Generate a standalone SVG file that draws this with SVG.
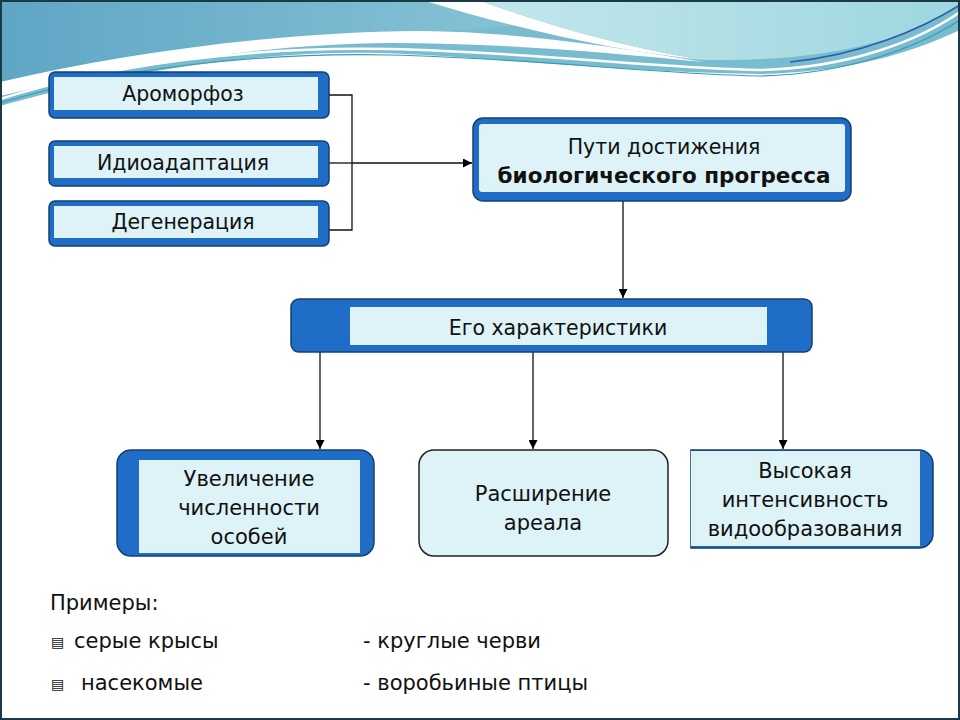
<svg xmlns="http://www.w3.org/2000/svg" width="960" height="720" viewBox="0 0 960 720">
<defs>
<linearGradient id="wave" x1="0" y1="0" x2="1" y2="0">
<stop offset="0" stop-color="#5FA6C5"/>
<stop offset="0.6" stop-color="#7FBDD2"/>
<stop offset="1" stop-color="#8FCAD8"/>
</linearGradient>
<linearGradient id="light" x1="0" y1="0" x2="1" y2="0">
<stop offset="0" stop-color="#C2E7EC"/>
<stop offset="1" stop-color="#9ED6DF"/>
</linearGradient>
<marker id="arr" viewBox="0 0 10 10" refX="10" refY="5" markerWidth="9" markerHeight="9" markerUnits="userSpaceOnUse" orient="auto">
<path d="M0,0 L10,5 L0,10 Z" fill="#000"/>
</marker>
<style>
.blue{fill:#1F6DC6;stroke:#15406E;stroke-width:1.5}
.inner{fill:#DDF3F8}
.t{font-family:"DejaVu Sans",Verdana,sans-serif;font-size:20.5px;fill:#111;text-anchor:middle}
.b{font-weight:bold;font-size:21.5px}
.p{font-family:"DejaVu Sans",Verdana,sans-serif;font-size:21px;fill:#111}
.c{fill:none;stroke:#111;stroke-width:1.3}
</style>
</defs>
<rect width="960" height="720" fill="#FFFFFF"/>
<!-- decorative top wave -->
<path d="M0,0 H960 V30 C900,58 840,72 760,74 C620,72 480,56 380,53 C250,50 110,75 0,106 Z" fill="#79BCD0"/>
<path d="M0,0 H700 C600,15 520,30 420,31 C280,32 130,52 0,82 Z" fill="url(#wave)"/>
<path d="M0,82 C130,52 280,32 420,31 C520,32 610,46 704,62 C600,52 500,43 390,43 C250,44 110,70 0,96 Z" fill="#FFFFFF"/>
<path d="M422,0 H478 C560,30 640,50 704,60 C620,52 520,30 422,0 Z" fill="#FFFFFF"/>
<path d="M478,0 H960 V6 C920,32 860,52 780,58 C750,60 725,60 704,60 C640,50 560,30 478,0 Z" fill="url(#light)"/>
<path d="M0,99 C110,65 250,46 390,49 C530,52 650,68 760,70 C850,68 920,40 960,12" fill="none" stroke="#FFFFFF" stroke-width="2.5"/>
<path d="M0,103 C110,70 250,52 390,55 C530,58 650,74 760,76 C850,74 920,46 960,20" fill="none" stroke="#3A9AB4" stroke-width="1.2"/>
<path d="M790,62 C860,55 920,30 960,5" fill="none" stroke="#2B5FA8" stroke-width="1.5"/>
<rect x="1" y="1" width="958" height="718" fill="none" stroke="#1B3A48" stroke-width="2"/>

<g id="connectors">
<path class="c" d="M329,95 H352 V230 H329"/>
<path class="c" d="M329,163 H352"/>
<path class="c" d="M352,163 H472" marker-end="url(#arr)"/>
<path class="c" d="M623,201 V298" marker-end="url(#arr)"/>
<path class="c" d="M320,352 V449" marker-end="url(#arr)"/>
<path class="c" d="M533,352 V449" marker-end="url(#arr)"/>
<path class="c" d="M783,352 V449" marker-end="url(#arr)"/>
</g>

<g id="aromorphosis">
<rect class="blue" x="49" y="72" width="280" height="46" rx="6"/>
<rect class="inner" x="54" y="77" width="264" height="33"/>
<text class="t" x="183" y="101">Ароморфоз</text>
</g>
<g id="idioadaptation">
<rect class="blue" x="49" y="141" width="280" height="45" rx="6"/>
<rect class="inner" x="54" y="146" width="264" height="32"/>
<text class="t" x="183" y="170">Идиоадаптация</text>
</g>
<g id="degeneration">
<rect class="blue" x="49" y="201" width="280" height="45" rx="6"/>
<rect class="inner" x="54" y="206" width="264" height="32"/>
<text class="t" x="183" y="229">Дегенерация</text>
</g>

<g id="ways">
<rect class="blue" x="473" y="118" width="378" height="83" rx="10"/>
<rect class="inner" x="479" y="124" width="366" height="68" rx="3"/>
<text class="t" x="664" y="154">Пути достижения</text>
<text class="t b" x="664" y="183">биологического прогресса</text>
</g>

<g id="characteristics">
<rect class="blue" x="291" y="299" width="521" height="53" rx="8"/>
<rect class="inner" x="350" y="307" width="417" height="38"/>
<text class="t" x="558" y="335">Его характеристики</text>
</g>

<g id="increase">
<rect class="blue" x="117" y="450" width="257" height="106" rx="14"/>
<rect class="inner" x="139" y="460" width="221" height="93"/>
<text class="t" x="249" y="486" style="font-size:21px">Увеличение</text>
<text class="t" x="249" y="515" style="font-size:21px">численности</text>
<text class="t" x="249" y="544" style="font-size:21px">особей</text>
</g>

<g id="expansion">
<rect x="419" y="450" width="249" height="106" rx="15" fill="#DDF3F8" stroke="#222" stroke-width="1.5"/>
<text class="t" x="543" y="501" style="font-size:21px">Расширение</text>
<text class="t" x="543" y="530" style="font-size:21px">ареала</text>
</g>

<g id="speciation">
<path class="blue" d="M691,450 H919 A14,14 0 0 1 933,464 V534 A14,14 0 0 1 919,548 H691 Z"/>
<rect class="inner" x="691" y="451" width="229" height="95"/>
<text class="t" x="805" y="478" style="font-size:21px">Высокая</text>
<text class="t" x="805" y="507" style="font-size:21px">интенсивность</text>
<text class="t" x="805" y="536" style="font-size:21px">видообразования</text>
</g>

<g id="examples">
<text class="p" x="50" y="610">Примеры:</text>
<text class="p" x="51" y="647" style="font-size:14px">▤</text>
<text class="p" x="74" y="648">серые крысы</text>
<text class="p" x="51" y="689" style="font-size:14px">▤</text>
<text class="p" x="81" y="690">насекомые</text>
<text class="p" x="363" y="648">- круглые черви</text>
<text class="p" x="363" y="690">- воробьиные птицы</text>
</g>
</svg>
